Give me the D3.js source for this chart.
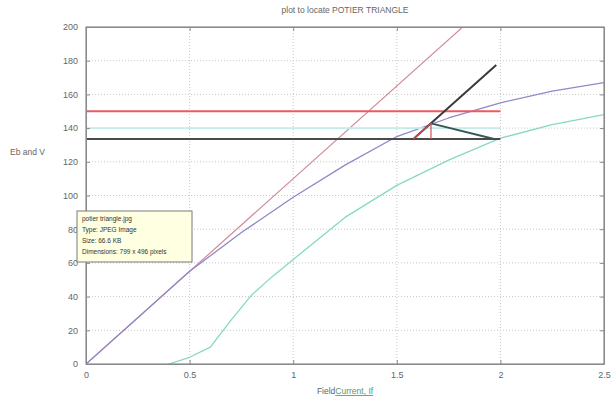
<!DOCTYPE html>
<html>
<head>
<meta charset="utf-8">
<script src="https://cdn.jsdelivr.net/npm/d3@7"></script>
<style>
  body { margin: 0; background: #fff; }
  svg { display: block; font-family: "Liberation Sans", Arial, sans-serif; }
</style>
</head>
<body>
<div id="chart"></div>
<script>
// open circuit characteristic
const occX = [0, 0.25, 0.5, 0.75, 1, 1.25, 1.5, 1.75, 2, 2.25, 2.5];
const occV = [0, 27.5, 55, 78, 99, 118, 135, 146, 155, 162, 167];

// zero power factor characteristic
const zpfX = [0.4, 0.5, 0.6, 0.7, 0.8, 0.9, 1, 1.25, 1.5, 1.75, 2, 2.25, 2.5];
const zpfV = [0, 4, 10, 26, 41, 52, 62, 87, 106, 121, 134, 142, 148];

// air gap line
const airX = [0, 2.5];
const airV = [0, 275];

// horizontal helper lines, drawn from 0 to 2
const levelV = [150, 140, 133.5];
const levelEnd = 2;

// potier construction
const slantX = [1.58, 1.98];
const slantV = [133.5, 177.5];
const triX = [1.58, 1.665, 1.665];
const triV = [133.5, 142.8, 133.5];
const legX = [1.665, 1.97];
const legV = [142.8, 133.5];

const xTicks = [0, 0.5, 1, 1.5, 2, 2.5];
const yTicks = [0, 20, 40, 60, 80, 100, 120, 140, 160, 180, 200];

const tipLines = ['potier triangle.jpg', 'Type: JPEG Image', 'Size: 66.6 KB', 'Dimensions: 799 x 496 pixels'];

const width = 611, height = 401;
const margin = { top: 27, right: 7, bottom: 37, left: 86 };

const svg = d3.select('#chart').append('svg')
  .attr('width', width)
  .attr('height', height);

const x = d3.scaleLinear().domain([0, 2.5]).range([margin.left, width - margin.right]);
const y = d3.scaleLinear().domain([0, 200]).range([height - margin.bottom, margin.top]);

// grid
const grid = svg.append('g')
  .attr('stroke', '#c8c8c8')
  .attr('stroke-dasharray', '1,2');
grid.selectAll('.gx').data(xTicks.slice(1, -1)).enter().append('line')
  .attr('x1', d => x(d)).attr('x2', d => x(d))
  .attr('y1', y(0)).attr('y2', y(200));
grid.selectAll('.gy').data(yTicks.slice(1, -1)).enter().append('line')
  .attr('x1', x(0)).attr('x2', x(2.5))
  .attr('y1', d => y(d)).attr('y2', d => y(d));

svg.append('clipPath').attr('id', 'plot-clip')
  .append('rect')
  .attr('x', x(0)).attr('y', y(200))
  .attr('width', x(2.5) - x(0)).attr('height', y(0) - y(200));

const plot = svg.append('g').attr('clip-path', 'url(#plot-clip)');

const line = d3.line().x(d => x(d[0])).y(d => y(d[1]));
const zip = (a, b) => a.map((v, i) => [v, b[i]]);

function drawPath(data, color, w) {
  plot.append('path')
    .datum(data)
    .attr('d', line)
    .attr('fill', 'none')
    .attr('stroke', color)
    .attr('stroke-width', w)
    .attr('stroke-linejoin', 'round');
}

drawPath(zip(airX, airV), '#d08c96', 1.2);
drawPath(zip(occX, occV), '#9088c8', 1.3);
drawPath(zip(zpfX, zpfV), '#86d8c4', 1.3);

const levelColors = ['#ec5a60', '#c4ecec', '#4a4a4a'];
const levelWidths = [2, 1.6, 2];
levelV.forEach((v, i) => {
  drawPath([[0, v], [levelEnd, v]], levelColors[i], levelWidths[i]);
});

drawPath(zip(slantX, slantV), '#3a3a3a', 2);
drawPath(zip(legX, legV), '#355a55', 2);
drawPath(zip(triX, triV), '#d45058', 1.2);

// axes box
svg.append('rect')
  .attr('x', x(0)).attr('y', y(200))
  .attr('width', x(2.5) - x(0)).attr('height', y(0) - y(200))
  .attr('fill', 'none')
  .attr('stroke', '#8a8a8a')
  .attr('stroke-width', 1.2);

const xAxis = svg.append('g')
  .attr('transform', `translate(0,${y(0)})`)
  .call(d3.axisBottom(x).tickValues(xTicks).tickSizeInner(-4).tickSizeOuter(0).tickPadding(8).tickFormat(d3.format('')));
const yAxis = svg.append('g')
  .attr('transform', `translate(${x(0)},0)`)
  .call(d3.axisLeft(y).tickValues(yTicks).tickSizeInner(-4).tickSizeOuter(0).tickPadding(8));
const yAxisR = svg.append('g')
  .attr('transform', `translate(${x(2.5)},0)`)
  .call(d3.axisRight(y).tickValues(yTicks).tickSizeInner(-4).tickSizeOuter(0).tickFormat(''));
const xAxisT = svg.append('g')
  .attr('transform', `translate(0,${y(200)})`)
  .call(d3.axisTop(x).tickValues(xTicks).tickSizeInner(-4).tickSizeOuter(0).tickFormat(''));

[xAxis, yAxis, yAxisR, xAxisT].forEach(a => {
  a.select('.domain').attr('stroke', '#8a8a8a');
  a.selectAll('.tick line').attr('stroke', '#8a8a8a');
  a.selectAll('.tick text').attr('fill', '#666').attr('font-size', 9);
});

// titles
svg.append('text')
  .attr('x', (x(0) + x(2.5)) / 2).attr('y', 13)
  .attr('text-anchor', 'middle')
  .attr('font-size', 8.5).attr('fill', '#666')
  .text('plot to locate POTIER TRIANGLE');

svg.append('text')
  .attr('x', 10).attr('y', 155)
  .attr('font-size', 8.5).attr('fill', '#666')
  .text('Eb and V');

const xl = svg.append('text')
  .attr('x', (x(0) + x(2.5)) / 2).attr('y', 394)
  .attr('text-anchor', 'middle')
  .attr('font-size', 8.5).attr('fill', '#666');
xl.append('tspan').text('Field');
xl.append('tspan').attr('fill', '#5a9a5a').attr('text-decoration', 'underline').text('Current, If');

// tooltip box left over in the screenshot
const tip = svg.append('g').attr('transform', 'translate(77,211)');
tip.append('rect')
  .attr('width', 115).attr('height', 51)
  .attr('fill', '#ffffe1')
  .attr('stroke', '#7a7a7a');
tip.selectAll('text').data(tipLines).enter().append('text')
  .attr('x', 5).attr('y', (d, i) => 10 + i * 11)
  .attr('font-size', 6.5).attr('fill', '#333')
  .text(d => d);
</script>
</body>
</html>
